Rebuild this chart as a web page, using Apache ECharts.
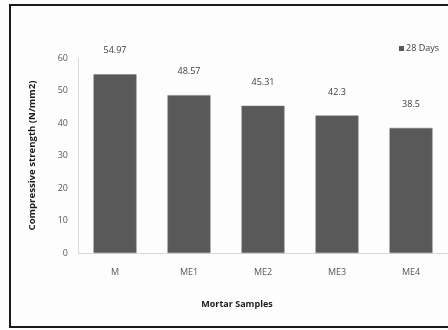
<!DOCTYPE html>
<html>
<head>
<meta charset="utf-8">
<script src="https://cdn.jsdelivr.net/npm/echarts@6/dist/echarts.min.js"></script>
<style>
  html, body { margin: 0; padding: 0; background: #ffffff; }
  #chart { width: 448px; height: 330px; }
</style>
</head>
<body>
<div id="chart"></div>
<script>
// Mortar compressive strength at 28 days
var categories = ['M', 'ME1', 'ME2', 'ME3', 'ME4'];
var strength28 = [54.97, 48.57, 45.31, 42.3, 38.5];
var seriesName = '28 Days';
var yTitle = 'Compressive strength (N/mm2)';
var xTitle = 'Mortar Samples';

var fontFamily = '"Open Sans", "Liberation Sans", sans-serif';

var chart = echarts.init(document.getElementById('chart'), null, { renderer: 'canvas' });

chart.setOption({
  backgroundColor: '#fdfdfd',
  animation: false,
  graphic: [{
    type: 'rect',
    shape: { x: 10, y: 5, width: 460, height: 322 },
    style: { fill: 'none', stroke: '#1a1a1a', lineWidth: 2 },
    z: 100
  }],
  legend: {
    data: [seriesName],
    left: 394,
    top: 39,
    itemWidth: 5,
    itemHeight: 5,
    itemGap: 2,
    icon: 'rect',
    itemStyle: { color: '#595959', borderWidth: 0 },
    textStyle: { fontFamily: fontFamily, fontSize: 9, color: '#404040', padding: [0, 0, 0, -3] }
  },
  grid: { left: 78, top: 58, width: 372.5, height: 195, containLabel: false },
  xAxis: {
    type: 'category',
    data: categories,
    name: xTitle,
    nameLocation: 'middle',
    nameGap: 47,
    nameTextStyle: { fontFamily: fontFamily, fontSize: 9, fontWeight: 'bold', color: '#1a1a1a', padding: [0, 0, 0, -52] },
    axisLine: { show: true, lineStyle: { color: '#d9d9d9', width: 1 } },
    axisTick: { show: false },
    axisLabel: { fontFamily: fontFamily, fontSize: 9, color: '#595959', margin: 15 }
  },
  yAxis: {
    type: 'value',
    min: 0,
    max: 60,
    interval: 10,
    name: yTitle,
    nameLocation: 'middle',
    nameGap: 41,
    nameRotate: 90,
    nameTextStyle: { fontFamily: fontFamily, fontSize: 9.6, fontWeight: 'bold', color: '#1a1a1a' },
    axisLine: { show: true, lineStyle: { color: '#d9d9d9', width: 1 } },
    axisTick: { show: false },
    splitLine: { show: false },
    axisLabel: { fontFamily: fontFamily, fontSize: 9, color: '#595959', margin: 10 }
  },
  series: [{
    name: seriesName,
    type: 'bar',
    data: strength28,
    barWidth: 43,
    itemStyle: { color: '#595959', borderColor: '#7a7a7a', borderWidth: 0.5 },
    label: {
      show: true,
      position: 'top',
      distance: 19,
      fontFamily: fontFamily,
      fontSize: 9,
      color: '#404040'
    }
  }]
});
</script>
</body>
</html>
